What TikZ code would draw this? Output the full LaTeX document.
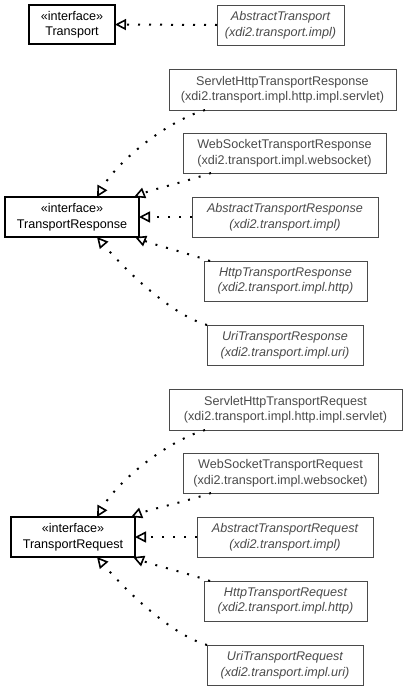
\documentclass[tikz,border=0pt]{standalone}
\usepackage{fontspec}
\setmainfont{Liberation Sans}
\usetikzlibrary{arrows.meta}
\definecolor{implgray}{HTML}{4A4A4A}
\begin{document}
\begin{tikzpicture}[x=1pt,y=-1pt,
  box/.style={rectangle,inner sep=0pt,outer sep=0pt,align=center,
    font=\fontsize{12.6pt}{15.5pt}\selectfont},
  iface/.style={box,draw=black,line width=1.3pt,text=black},
  impl/.style={box,draw=implgray,line width=1pt,text=implgray},
  realize/.style={line width=2pt,dash pattern=on 2pt off 9pt,
    -{Triangle[open,length=11pt,width=11pt,line width=1.6pt]}}]
\useasboundingbox (0,0) rectangle (407,691);
% Transport
\node[iface,minimum width=86pt,minimum height=39pt] (tr) at (72,24.5) {«interface»\\Transport};
\node[impl,minimum width=127pt,minimum height=40pt] (abstr) at (280.5,25) {\itshape AbstractTransport\\\itshape (xdi2.transport.impl)};
% TransportResponse
\node[iface,minimum width=134pt,minimum height=40pt] (tresp) at (72,217) {«interface»\\TransportResponse};
\node[impl,minimum width=227pt,minimum height=41pt] (srvresp) at (282.5,89.5) {ServletHttpTransportResponse\\(xdi2.transport.impl.http.impl.servlet)};
\node[impl,minimum width=203pt,minimum height=40pt] (wsresp) at (284.5,153) {WebSocketTransportResponse\\(xdi2.transport.impl.websocket)};
\node[impl,minimum width=186pt,minimum height=40pt] (absresp) at (285,217) {\itshape AbstractTransportResponse\\\itshape (xdi2.transport.impl)};
\node[impl,minimum width=163pt,minimum height=40pt] (httpresp) at (285.5,281) {\itshape HttpTransportResponse\\\itshape (xdi2.transport.impl.http)};
\node[impl,minimum width=156pt,minimum height=40pt] (uriresp) at (285,345) {\itshape UriTransportResponse\\\itshape (xdi2.transport.impl.uri)};
% TransportRequest
\node[iface,minimum width=124pt,minimum height=40pt] (treq) at (73,537) {«interface»\\TransportRequest};
\node[impl,minimum width=233pt,minimum height=41pt] (srvreq) at (285.5,409.5) {ServletHttpTransportRequest\\(xdi2.transport.impl.http.impl.servlet)};
\node[impl,minimum width=195pt,minimum height=40pt] (wsreq) at (280.5,473) {WebSocketTransportRequest\\(xdi2.transport.impl.websocket)};
\node[impl,minimum width=176pt,minimum height=40pt] (absreq) at (285,537) {\itshape AbstractTransportRequest\\\itshape (xdi2.transport.impl)};
\node[impl,minimum width=163pt,minimum height=40pt] (httpreq) at (285.5,601) {\itshape HttpTransportRequest\\\itshape (xdi2.transport.impl.http)};
\node[impl,minimum width=156pt,minimum height=40pt] (urireq) at (285,665) {\itshape UriTransportRequest\\\itshape (xdi2.transport.impl.uri)};
% realizations
\draw[realize] (abstr.west) -- (tr.east);
\draw[realize] ([xshift=36pt]srvresp.south west) .. controls +(-40,12) and +(20,-35) .. ([xshift=25pt]tresp.north);
\draw[realize] ([xshift=28pt]wsresp.south west) .. controls +(-30,10) and +(20,-8) .. ([xshift=-5pt]tresp.north east);
\draw[realize] (absresp.west) -- (tresp.east);
\draw[realize] ([xshift=6pt]httpresp.north west) .. controls +(-30,-10) and +(20,8) .. ([xshift=-4pt]tresp.south east);
\draw[realize] (uriresp.north west) .. controls +(-35,-10) and +(30,35) .. ([xshift=25pt]tresp.south);
\draw[realize] ([xshift=36pt]srvreq.south west) .. controls +(-40,12) and +(20,-35) .. ([xshift=24pt]treq.north);
\draw[realize] ([xshift=28pt]wsreq.south west) .. controls +(-30,10) and +(20,-8) .. ([xshift=-4pt]treq.north east);
\draw[realize] (absreq.west) -- (treq.east);
\draw[realize] ([xshift=6pt]httpreq.north west) .. controls +(-30,-10) and +(20,8) .. ([xshift=-2pt]treq.south east);
\draw[realize] (urireq.north west) .. controls +(-35,-10) and +(30,35) .. ([xshift=24pt]treq.south);
\end{tikzpicture}
\end{document}
